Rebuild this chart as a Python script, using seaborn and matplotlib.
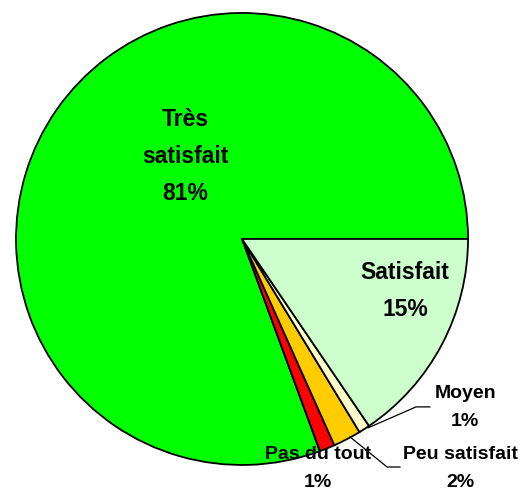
import matplotlib
matplotlib.use("Agg")
import matplotlib.pyplot as plt
import seaborn as sns

# data (counter-clockwise from 3 o'clock)
categories = ["Très\nsatisfait", "Pas du tout", "Peu satisfait", "Moyen", "Satisfait"]
values = [80.6, 1.1, 2.0, 0.8, 15.5]
pct_labels = ["81%", "1%", "2%", "1%", "15%"]
colors = ["#00FF00", "#FF0000", "#FFCC00", "#FFFFCC", "#CCFFCC"]

sns.set_theme(style="white")
plt.rcParams['font.family'] = ['Liberation Sans', 'DejaVu Sans']

fig = plt.figure(figsize=(5.25, 4.91), dpi=100)
ax = fig.add_axes([0.0305, 0.053, 0.861, 0.9206])
wedges, _ = ax.pie(values, colors=colors, startangle=0, counterclock=True,
                   wedgeprops=dict(edgecolor="black", linewidth=1.3))
ax.set_xlim(-1, 1)
ax.set_ylim(-1, 1)
ax.set_aspect("equal")
ax.axis("off")

# label positions in data units (pie radius = 1)
label_pos = [(-0.252, 0.365), (0.336, -1.015), (0.965, -1.015), (0.987, -0.745), (0.721, -0.230)]
label_size = [16.5, 14, 14, 14, 16.5]
for name, pct, (x, y), fs in zip(categories, pct_labels, label_pos, label_size):
    ax.text(x, y, f"{name}\n{pct}", ha="center", va="center", fontsize=fs, color="black",
            fontweight="bold", linespacing=1.8 if fs > 15 else 1.85, clip_on=False)

# leader lines
ax.plot([0.557, 0.770, 0.832], [-0.836, -0.743, -0.743], color="black", lw=0.9, clip_on=False)
ax.plot([0.478, 0.642, 0.700], [-0.876, -1.009, -1.009], color="black", lw=0.9, clip_on=False)

fig.savefig("out.png", dpi=100)
